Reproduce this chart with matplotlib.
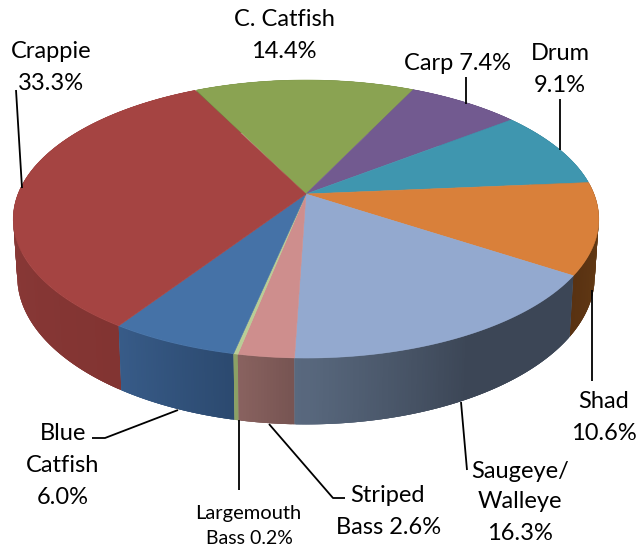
import numpy as np
import matplotlib
matplotlib.use('Agg')
import matplotlib.pyplot as plt

# clockwise from the top of the pie
names = ['C. Catfish', 'Carp', 'Drum', 'Shad', 'Saugeye/Walleye', 'Striped Bass',
         'Largemouth Bass', 'Blue Catfish', 'Crappie']
shares = [14.4, 7.4, 9.1, 10.6, 16.3, 2.6, 0.2, 6.0, 33.3]

top_colors = ['#8AA352', '#725A90', '#3F96AF', '#D9803A', '#93A9CF', '#CE8E8D', '#B9CD96', '#4572A7', '#A54442']
# side wall shade: start and end of each slice, going clockwise
wall_start = ['#6E8241', '#5B4873', '#32788C', '#6B4016', '#3C4656', '#785553', '#8CA065', '#2C4A70', '#823432']
wall_end = ['#6E8241', '#5B4873', '#32788C', '#593212', '#5A6A80', '#8A6360', '#8CA065', '#385C89', '#94403E']

start_angle = -26.2
persp = 0.18

plt.rcParams['font.family'] = ['Lato', 'DejaVu Sans']

fig = plt.figure(figsize=(6.39, 5.5), dpi=100)
ax = fig.add_axes([0, 0, 1, 1])
ax.set_xlim(0, 639)
ax.set_ylim(550, 0)
ax.axis('off')


def project(theta, cx, cy, a, b):
    # circle to screen, far edge gets smaller
    t = np.radians(theta)
    x, y = np.sin(t), np.cos(t)
    w = 1 + persp * y
    return cx + a * x / w, cy - b * y / w


def hex2rgb(c):
    return np.array(matplotlib.colors.to_rgb(c))


TOP = (306, 194, 288, 134.5)
BOT = (306, 250, 284, 143)

edges = start_angle + 3.6 * np.concatenate([[0], np.cumsum(shares)])

# side wall, far pieces first so the nearer ones cover them
quads = []
for i in range(len(shares)):
    th = np.append(np.arange(edges[i], edges[i + 1], 0.5), edges[i + 1])
    c0, c1 = hex2rgb(wall_start[i]), hex2rgb(wall_end[i])
    for j in range(len(th) - 1):
        f = j / max(len(th) - 2, 1)
        if names[i] == 'Saugeye/Walleye':
            # stays dark until the last part of the slice
            f = np.clip((th[j] - edges[i + 1] + 30) / 30, 0, 1)
        # overlap the neighbour inside a slice, hides the seams
        a0 = max(th[j] - 0.5, edges[i])
        a1 = min(th[j + 1] + 0.5, edges[i + 1])
        mid = (th[j] + th[j + 1]) / 2
        quads.append((np.cos(np.radians(mid)), a0, a1, c0 + (c1 - c0) * f))

quads.sort(key=lambda q: -q[0])
for _, a0, a1, col in quads:
    x0, y0 = project(np.array([a0, a1]), *TOP)
    x1, y1 = project(np.array([a1, a0]), *BOT)
    ax.fill(np.r_[x0, x1], np.r_[y0, y1], color=col, lw=0, zorder=2)

# top face
for i in range(len(shares)):
    th = np.linspace(edges[i], edges[i + 1], 80)
    x, y = project(th, *TOP)
    ax.fill(np.r_[TOP[0], x], np.r_[TOP[1], y], color=top_colors[i], lw=0.4, zorder=3)

# leader lines
leaders = [
    ([16, 22], [90, 188]),
    ([466, 466], [77, 104]),
    ([560, 560], [99, 150]),
    ([592, 592], [290, 381]),
    ([461, 467], [402, 470]),
    ([269, 333, 345], [424, 498, 498]),
    ([239, 239], [420, 490]),
    ([178, 105, 92], [410, 438, 438]),
]
for lx, ly in leaders:
    ax.plot(lx, ly, color='black', lw=1.3, zorder=4, solid_capstyle='butt')

# labels, one text per line
labels = [
    ('C. Catfish', 284, 20, 17), ('14.4%', 284, 52, 17),
    ('Crappie', 51, 51, 17), ('33.3%', 51, 83, 17),
    ('Carp 7.4%', 457, 64, 17),
    ('Drum', 560, 54, 17), ('9.1%', 560, 85, 17),
    ('Shad', 604, 402, 17), ('10.6%', 604, 434, 17),
    ('Saugeye/', 520, 471, 17), ('Walleye', 520, 502, 17), ('16.3%', 520, 534, 17),
    ('Striped', 387, 495, 17), ('Bass 2.6%', 389, 527, 17),
    ('Largemouth', 248, 513, 14.5), ('Bass 0.2%', 249, 539, 14),
    ('Blue', 63, 434, 17), ('Catfish', 63, 466, 17), ('6.0%', 63, 497, 17),
]
for s, x, y, size in labels:
    ax.text(x, y, s, ha='center', va='center', fontsize=size, color='black', zorder=5)

fig.savefig('out.png', dpi=100)
